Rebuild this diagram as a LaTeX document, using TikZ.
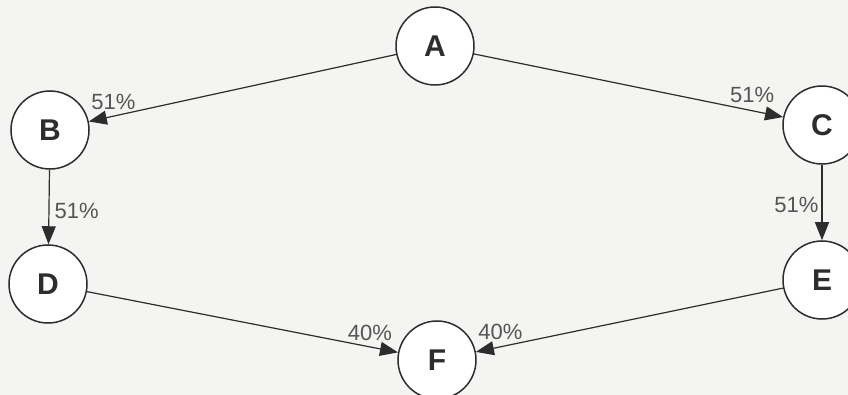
\documentclass[tikz,border=0pt]{standalone}
\usepackage{fontspec}
\setmainfont{Liberation Sans}
\usetikzlibrary{arrows.meta, positioning}
\definecolor{mydark}{RGB}{45,45,45}
\definecolor{mygray}{RGB}{85,85,85}
\definecolor{mypaper}{RGB}{244,244,242}
\tikzset{
  state/.style={circle, draw=mydark, fill=white, line width=1.5pt,
    minimum size=78pt, inner sep=0pt, text=mydark,
    font=\fontsize{30}{32}\selectfont\bfseries},
  arrow/.style={-{Triangle[length=18pt,width=14pt]}, line width=1.2pt, color=mydark},
  pct/.style={font=\fontsize{22}{24}\selectfont, text=mygray, inner sep=2pt}
}

\begin{document}
\begin{tikzpicture}[x=1pt, y=-1pt]
  \clip (0,0) rectangle (848,395);
  \fill[mypaper] (0,0) rectangle (848,395);

  \node (a) [state] at (435,46) {A};
  \node (b) [state] at (50,130) {B};
  \node (c) [state] at (822,125) {C};
  \node (d) [state] at (48,284) {D};
  \node (e) [state] at (822,280) {E};
  \node (f) [state] at (437,360) {F};

  \draw [arrow] (a) -- node[pct, pos=0.92, above=4pt] {51\%} (b);
  \draw [arrow] (a) -- node[pct, pos=0.90, above=5pt] {51\%} (c);
  \draw [arrow] (b) -- node[pct, pos=0.55, right=3pt] {51\%} (d);
  \draw [arrow] (c) -- node[pct, pos=0.53, left=1pt] {51\%} (e);
  \draw [arrow] (d) -- node[pct, pos=0.91, above=4pt] {40\%} (f);
  \draw [arrow] (e) -- node[pct, pos=0.92, above=4pt] {40\%} (f);
\end{tikzpicture}
\end{document}
